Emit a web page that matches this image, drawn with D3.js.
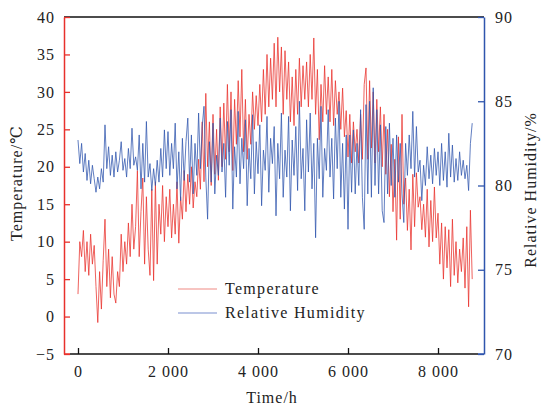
<!DOCTYPE html>
<html><head><meta charset="utf-8">
<script src="https://cdn.jsdelivr.net/npm/d3@7"></script>
<style>body{margin:0;background:#fff}svg{display:block}text{font-family:"Liberation Serif","DejaVu Serif",serif;fill:#222}</style>
</head><body><svg id="c" width="542" height="407"></svg>
<script>
// sampling step of the hourly series (hours)
const stepHours = 40;
const xTicks = [0, 2000, 4000, 6000, 8000];
const xTickLabels = ["0", "2 000", "4 000", "6 000", "8 000"];
const tempTicks = [-5, 0, 5, 10, 15, 20, 25, 30, 35, 40];
const tempTickLabels = ["\u22125", "0", "5", "10", "15", "20", "25", "30", "35", "40"];
const humTicks = [70, 75, 80, 85, 90];
const seriesNames = ["Temperature", "Relative Humidity"];

const temperature = [
 3,10,8,11.5,6,10,5.5,11,7,9.5,
 4,-0.8,6,1,7.5,13,4,9,2.5,8,
 3,1.8,6,4,11,6,10,7,12.5,8,
 15,9,12,19.5,8,14,18.5,7,16,9,
 5.5,17,4.8,18,7,15,11,17.5,10,16,
 12,17,10.5,15,11,18,9.8,16,13,19.5,
 14,19,15,20,14.5,18,16,21,17,26,
 18,29.8,20,26,17.5,27,19,25,18.2,28,
 20,28.5,21,31,22,30,19.5,29,23,31.5,
 24,33,22,29,21,27,23,30,25,29.5,
 25.5,31,26,33,27,35,28,34.5,29,36.5,
 28,37.3,30,36,27,35.5,29,34,26,32,
 25.5,33,27,34.5,28,33.5,29,34,28,35,
 29,37.2,27,33,23.6,31,26,33.5,27,32,
 26,33,25.5,31.5,27,30,25,30.5,24,27.5,
 21.3,27,20.5,26,22,25,20.5,27,21,31,
 33.2,21,31.5,22.5,30,20.5,29,22,28,20,
 27,19,25,16,23,14,21,10.2,24,13,
 27,15,18.5,11.5,17,8.9,19,12,19.2,14.6,
 16,11.6,15,10.6,17,9.3,15.5,10,17.3,10.5,
 13.8,7,12.5,5,12,6.5,11.6,4,13,5.5,
 10,4.5,9,6,10.5,3.8,12,1.3,14.2,5
];
const humidity = [
 82.7,81.3,82.5,80.8,81.9,80.3,81.5,80.1,81.2,80.4,
 79.6,80.5,79.8,81,80.2,83.6,81,82.3,80.6,81.8,
 80.5,82,80.8,81.5,82.6,80.9,81.6,80.5,82.2,81,
 83.4,81.2,81.7,80.9,83,79.8,82.5,80.2,83.8,80.5,
 81.3,79.7,81,80,81.5,80.2,82.2,80.5,83.3,81,
 83.2,80.6,82.5,81,83.7,79.8,82,79.1,82.8,80.3,
 82.6,84,80.2,83,79.5,82.5,80.6,84.3,81,83.5,
 84.7,80.5,78,82.6,80.2,83.7,79.5,81.8,80.6,84,
 80.8,82.5,79.3,83.8,81.2,84.5,78.6,82.3,80.5,84.4,
 80.1,82.8,81,83.9,78.8,82.2,80.4,84.2,79.5,82.6,
 80.7,83.6,78.8,82.1,80.9,84.1,79.6,82.8,81.3,83.5,
 78.2,82.5,80.4,84.3,79.3,82.1,80.5,84.1,78.5,82.7,
 80.6,83.5,79.7,85,80.4,82.2,78.5,83.9,80.8,84.3,
 79.8,82.5,76.9,82.8,80.4,84.7,79.3,82.2,80.9,84.5,
 80.5,82.8,79.2,84,81,85,79.3,82.5,78.6,83,
 77.4,83,79.6,83.3,79.5,82.5,80,84.5,79.3,77.4,
 84.8,79.5,85,79.3,85.8,80,84.5,79.5,83.6,78.5,
 77.8,83.5,79.5,83.7,80,82.8,79.3,83,80.2,82.5,
 79.5,77.8,82.5,80.6,83,81,84.4,80.5,83.5,80.8,
 81.5,79.1,81.2,80,82.3,80.4,81.8,80.1,82.2,80.6,
 82,80,82.5,80.3,82,79.9,83.1,80.5,82.4,80.2,
 81.6,80.3,82,80.6,81.5,80.4,81.2,79.7,82.5,83.7
];

const svg = d3.select("#c");
const L = 64, R = 484, T = 17, B = 354;
const red = "#e8312c", blue = "#2f55ad";
const FONT = '"Liberation Serif",serif';
const x = d3.scaleLinear().domain([-311, 9022]).range([L, R]);
const yT = d3.scaleLinear().domain([-5, 40]).range([B, T]);
const yH = d3.scaleLinear().domain([70, 90]).range([B, T]);

// data lines
const lineT = d3.line().x((d, i) => x(i * stepHours)).y(d => yT(d));
const lineH = d3.line().x((d, i) => x(i * stepHours)).y(d => yH(d));
svg.append("path").datum(temperature).attr("d", lineT)
  .attr("fill", "none").attr("stroke", red).attr("stroke-width", 0.85).attr("stroke-opacity", 0.9);
svg.append("path").datum(humidity).attr("d", lineH)
  .attr("fill", "none").attr("stroke", blue).attr("stroke-width", 0.85).attr("stroke-opacity", 0.9);

// frame
svg.append("line").attr("x1", L).attr("x2", R).attr("y1", T).attr("y2", T).attr("stroke", "#111").attr("stroke-width", 1.5);
svg.append("line").attr("x1", L + 6).attr("x2", R - 6).attr("y1", B).attr("y2", B).attr("stroke", "#111").attr("stroke-width", 1.5);
svg.append("line").attr("x1", L).attr("x2", L + 6).attr("y1", B).attr("y2", B).attr("stroke", red).attr("stroke-width", 1.5);
svg.append("line").attr("x1", R - 6).attr("x2", R).attr("y1", B).attr("y2", B).attr("stroke", blue).attr("stroke-width", 1.5);

function styleText(g) {
  g.selectAll(".tick text").style("font-family", FONT).style("font-size", "16px")
    .style("letter-spacing", "1px").attr("fill", "#222");
}

// left axis
const gL = svg.append("g").attr("transform", `translate(${L},0)`)
  .call(d3.axisLeft(yT).tickValues(tempTicks).tickSizeInner(-6).tickSizeOuter(0).tickPadding(9)
    .tickFormat((d, i) => tempTickLabels[i]));
gL.select(".domain").attr("stroke", red).attr("stroke-width", 1.5);
gL.selectAll(".tick line").attr("stroke", red).attr("stroke-width", 1.3);
styleText(gL);

// right axis
const gR = svg.append("g").attr("transform", `translate(${R},0)`)
  .call(d3.axisRight(yH).tickValues(humTicks).tickSizeInner(-6).tickSizeOuter(0).tickPadding(11));
gR.select(".domain").attr("stroke", blue).attr("stroke-width", 1.5);
gR.selectAll(".tick line").attr("stroke", blue).attr("stroke-width", 1.3);
styleText(gR);

// bottom axis
const gB = svg.append("g").attr("transform", `translate(0,${B})`)
  .call(d3.axisBottom(x).tickValues(xTicks).tickSizeInner(-6).tickSizeOuter(0).tickPadding(12)
    .tickFormat((d, i) => xTickLabels[i]));
gB.select(".domain").remove();
gB.selectAll(".tick line").attr("stroke", "#111").attr("stroke-width", 1.3);
styleText(gB);

// axis titles
svg.append("text").attr("transform", "translate(22,183) rotate(-90)").attr("text-anchor", "middle")
  .style("font-size", "16px").style("letter-spacing", "1px").text("Temperature/\u2103");
svg.append("text").attr("transform", "translate(536,190) rotate(-90)").attr("text-anchor", "middle")
  .style("font-size", "16px").style("letter-spacing", "1px").text("Relative Humidity/%");
svg.append("text").attr("x", 272).attr("y", 403).attr("text-anchor", "middle")
  .style("font-size", "16px").style("letter-spacing", "1px").text("Time/h");

// legend
const legColors = ["#f08a84", "#7b8fd0"];
seriesNames.forEach((name, i) => {
  const yy = 289 + i * 24;
  svg.append("line").attr("x1", 178).attr("x2", 217).attr("y1", yy).attr("y2", yy)
    .attr("stroke", legColors[i]).attr("stroke-width", 1.2);
  svg.append("text").attr("x", 225).attr("y", yy + 5).style("font-size", "16px")
    .style("letter-spacing", "1.3px").text(name);
});
</script></body></html>
